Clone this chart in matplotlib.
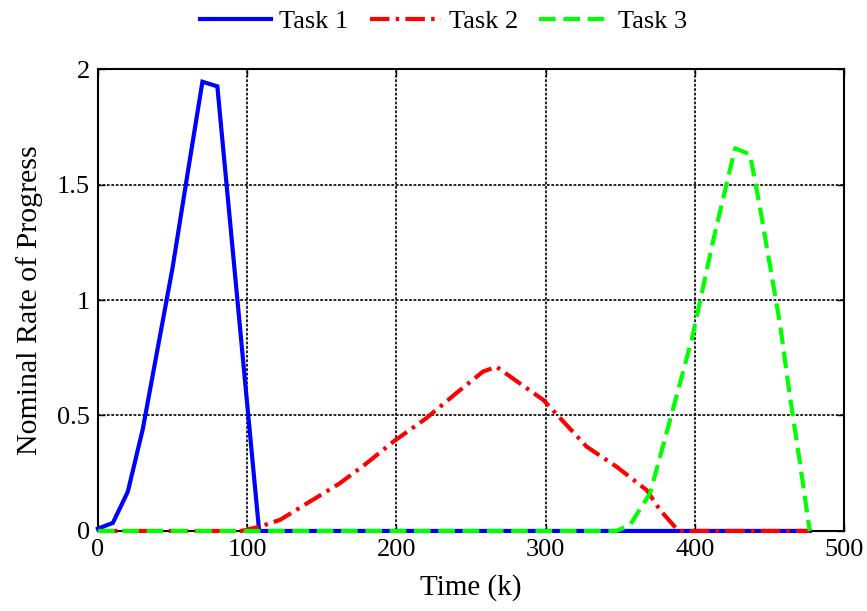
import matplotlib
matplotlib.use("Agg")
import matplotlib.pyplot as plt

# Task 1 progress rate
t1 = [0, 10, 20, 30, 40, 50, 60, 70, 80, 108, 477]
r1 = [0.01, 0.035, 0.17, 0.44, 0.79, 1.14, 1.545, 1.945, 1.925, 0.0, 0.0]

# Task 2 progress rate
t2 = [0, 96, 108.6, 122, 142, 162, 180, 198, 220, 240, 258, 267, 298.5, 327.5,
      347.6, 367.7, 376.7, 389, 477]
r2 = [0.0, 0.0, 0.019, 0.048, 0.127, 0.206, 0.293, 0.387, 0.488, 0.596, 0.69,
      0.711, 0.567, 0.365, 0.278, 0.177, 0.091, 0.0, 0.0]

# Task 3 progress rate
t3 = [0, 347.6, 356.6, 370, 383.4, 398, 412.4, 427, 437, 443.7, 457, 463.8,
      470.5, 477]
r3 = [0.0, 0.0, 0.026, 0.163, 0.48, 0.83, 1.26, 1.657, 1.63, 1.40, 0.9, 0.58,
      0.293, 0.0]

labels = ["Task 1", "Task 2", "Task 3"]
xticks = [0, 100, 200, 300, 400, 500]
yticks = [0, 0.5, 1, 1.5, 2]
yticklabels = ["0", "0.5", "1", "1.5", "2"]

plt.rcParams["font.family"] = ["Liberation Serif", "DejaVu Serif"]
plt.rcParams["font.size"] = 19
plt.rcParams["lines.scale_dashes"] = False

fig = plt.figure(figsize=(8.67, 6.11), dpi=100)
ax = fig.add_axes([0.113, 0.131, 0.8605, 0.756])

style = dict(lw=3, clip_on=False, zorder=3)
l1, = ax.plot(t1, r1, color="#0000ff", solid_joinstyle="miter", **style)
l2, = ax.plot(t2, r2, color="#ff0000", dashes=(14, 4.5, 2.5, 4.5), **style)
l3, = ax.plot(t3, r3, color="#00ff00", dashes=(12, 5.5), **style)

ax.set_xlim(0, 500)
ax.set_ylim(0, 2)
ax.set_xticks(xticks)
ax.set_yticks(yticks)
ax.set_yticklabels(yticklabels)
ax.grid(True, color="black", linestyle=(0, (2, 1.2)), linewidth=1.2)
ax.tick_params(direction="in", top=True, right=True, length=5, width=1,
               pad=6, labelsize=19)
for s in ax.spines.values():
    s.set_linewidth(1.5)
ax.set_axisbelow(True)

ax.set_xlabel("Time (k)", fontsize=21, labelpad=9)
ax.set_ylabel("Nominal Rate of Progress", fontsize=21.5, labelpad=10)

fig.legend([l1, l2, l3], labels, loc="center", ncol=3,
           bbox_to_anchor=(0.512, 0.965), frameon=False,
           handlelength=2.7, handletextpad=0.3, columnspacing=0.8,
           borderaxespad=0)

fig.savefig("out.png", dpi=100)
